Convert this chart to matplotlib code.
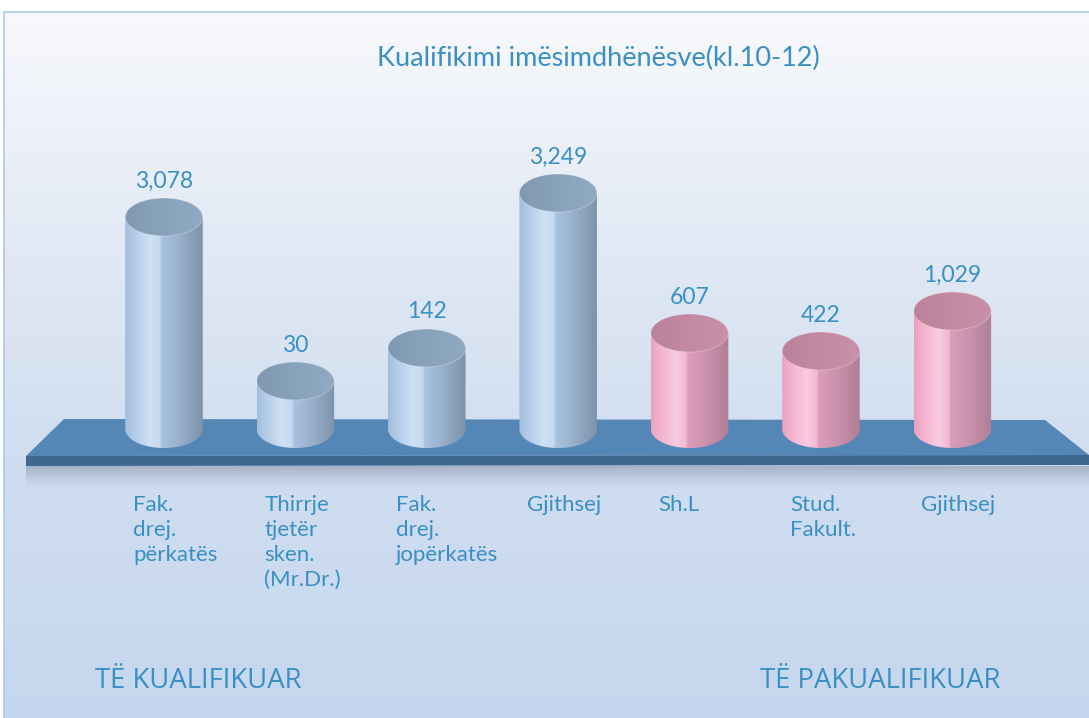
import numpy as np
import matplotlib
matplotlib.use("Agg")
import matplotlib.pyplot as plt
from matplotlib.colors import LinearSegmentedColormap
from matplotlib.patches import Ellipse, Polygon, PathPatch
from matplotlib.path import Path

title = "Kualifikimi imësimdhënësve(kl.10-12)"
categories = ["Fak.\ndrej.\npërkatës", "Thirrje\ntjetër\nsken.\n(Mr.Dr.)",
              "Fak.\ndrej.\njopërkatës", "Gjithsej", "Sh.L", "Stud.\nFakult.", "Gjithsej"]
values = [3078, 30, 142, 3249, 607, 422, 1029]
qualified = [True, True, True, True, False, False, False]
# the cylinders of the original graphic are not drawn to scale,
# so the shown heights are read off the picture separately
bar_heights = [212, 48, 81, 236, 96, 78, 118]
group_labels = ["TË KUALIFIKUAR", "TË PAKUALIFIKUAR"]

text_color = "#3a8fc3"
label_font = ["Lato", "DejaVu Sans"]
head_font = ["Open Sans", "DejaVu Sans"]

body_blue = LinearSegmentedColormap.from_list("bb", [
    (0.0, "#a2bddb"), (0.1, "#b0cae7"), (0.32, "#cfe1f4"), (0.45, "#c4d8ef"),
    (0.47, "#a9c3e0"), (0.7, "#98b0cb"), (1.0, "#7d92ab")])
body_pink = LinearSegmentedColormap.from_list("bp", [
    (0.0, "#eca0c0"), (0.1, "#f2b0cd"), (0.32, "#f9cbe0"), (0.45, "#f2b8d2"),
    (0.47, "#dc9dba"), (0.7, "#ca92ad"), (1.0, "#b07e96")])
top_blue = LinearSegmentedColormap.from_list("tb", ["#8098b2", "#8aa3bd", "#90aac4"])
top_pink = LinearSegmentedColormap.from_list("tp", ["#bc8299", "#c48aa3", "#c990a9"])

fig = plt.figure(figsize=(10.89, 7.18), dpi=100)

# background panel
bg = fig.add_axes([0, 0, 1, 1], zorder=0)
bg.set_axis_off()
bg.set_xlim(0, 1)
bg.set_ylim(0, 1)
bg_cmap = LinearSegmentedColormap.from_list("bg", [
    (0.0, "#c5d7ee"), (0.35, "#d0ddf0"), (0.6, "#dde6f3"), (1.0, "#f8f9fc")])
grad = np.linspace(0, 1, 256).reshape(-1, 1)
fx, fy = 4 / 1089, 1 - 12 / 718
bg.imshow(grad, cmap=bg_cmap, origin="lower", aspect="auto",
          extent=[fx, 1, 0, fy])
bg.plot([fx, fx, 1], [0, fy, fy], color="#a8cbe9", lw=1.2)

# chart: x = category index, y in shown-height units (1 unit = 1 px)
ax = fig.add_axes([0, 0, 1, 1], zorder=1)
ax.set_axis_off()
ax.patch.set_alpha(0)

w = 0.59    # cylinder width in category units
eh = 38     # ellipse height

# floor
floor_top = Polygon([(-0.761, 10), (6.705, 9), (7.04, -26), (-1.05, -27)],
                    closed=True, facecolor="#5587b6", edgecolor="none", zorder=1)
floor_front = Polygon([(-1.05, -27), (7.04, -26), (7.04, -36), (-1.05, -37)],
                      closed=True, facecolor="#3f6890", edgecolor="none", zorder=1)
ax.add_patch(floor_top)
ax.add_patch(floor_front)
shadow = np.zeros((64, 1, 4))
shadow[..., 0], shadow[..., 1], shadow[..., 2] = 0.40, 0.45, 0.54
shadow[:, 0, 3] = np.linspace(0.55, 0, 64) ** 1.5
ax.imshow(shadow, extent=[-1.05, 7.04, -62, -37], aspect="auto", zorder=1)

for i, (v, h, q) in enumerate(zip(values, bar_heights, qualified)):
    body_cm = body_blue if q else body_pink
    top_cm = top_blue if q else top_pink

    t = np.linspace(np.pi, 2 * np.pi, 80)
    arc = np.column_stack([i + w / 2 * np.cos(t), eh / 2 * np.sin(t)])
    verts = [(i - w / 2, h)] + arc.tolist() + [(i + w / 2, h), (i - w / 2, h)]
    body = PathPatch(Path(verts, closed=True), facecolor="none",
                     edgecolor="none", zorder=3)
    ax.add_patch(body)
    im = ax.imshow(np.linspace(0, 1, 256).reshape(1, -1), cmap=body_cm,
                   extent=[i - w / 2, i + w / 2, -eh / 2, h], aspect="auto",
                   interpolation="bilinear", zorder=3)
    im.set_clip_path(body)

    top = Ellipse((i, h), w, eh, facecolor="none", edgecolor="none", zorder=4)
    ax.add_patch(top)
    im2 = ax.imshow(np.linspace(0, 1, 256).reshape(1, -1), cmap=top_cm,
                    extent=[i - w / 2, i + w / 2, h - eh / 2, h + eh / 2],
                    aspect="auto", interpolation="bilinear", zorder=4)
    im2.set_clip_path(top)
    ax.add_patch(Ellipse((i, h), w, eh, facecolor="none",
                         edgecolor="#ffffff", alpha=0.25, lw=0.8, zorder=4))

    ax.text(i, h + eh / 2 + 17, f"{v:,}", ha="center", va="center",
            fontsize=16.5, color=text_color, family=label_font, zorder=5)
    ax.text(i - 0.235, -66, categories[i], ha="left", va="top", fontsize=16,
            color=text_color, family=label_font, linespacing=1.3, zorder=5)

ax.set_xlim(-1.248, 7.04)
ax.set_ylim(-289, 429)

fig.text(598 / 1089, 1 - 58 / 718, title, ha="center", va="center",
         fontsize=19.5, color=text_color, family=label_font)
fig.text(95 / 1089, 1 - 681 / 718, group_labels[0], ha="left", va="center",
         fontsize=19.8, color=text_color, family=head_font)
fig.text(760 / 1089, 1 - 681 / 718, group_labels[1], ha="left", va="center",
         fontsize=19.8, color=text_color, family=head_font)

fig.savefig("out.png", dpi=100)
